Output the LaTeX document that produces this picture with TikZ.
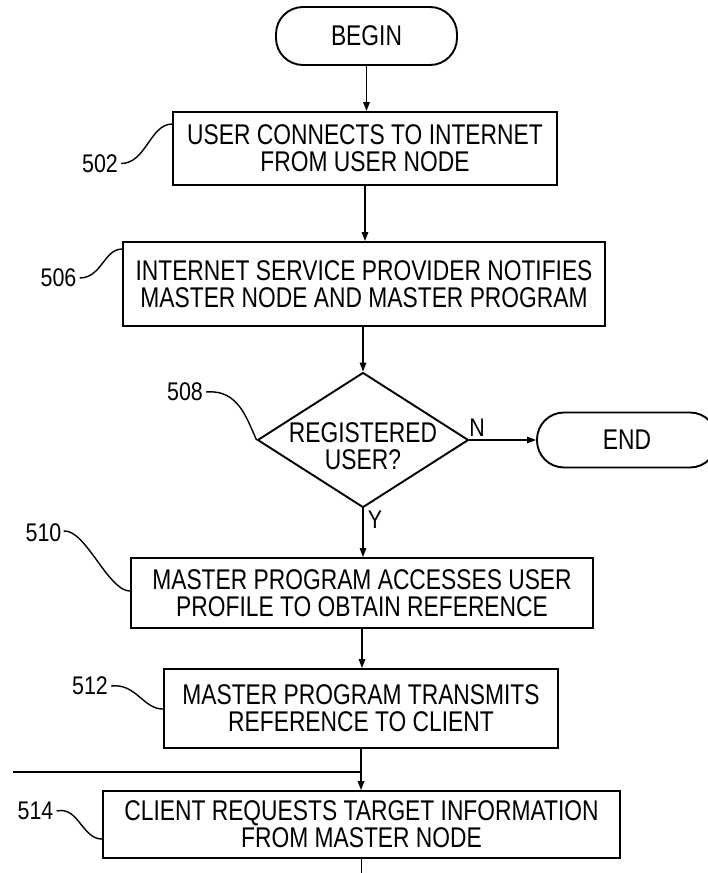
\documentclass[tikz,border=0pt]{standalone}
\usepackage{fontspec}
\setmainfont{Liberation Sans}
\newfontfamily\condfont[FakeStretch=0.80]{Liberation Sans}
\newfontfamily\numfont[FakeStretch=0.84]{Liberation Sans}
\usetikzlibrary{arrows.meta,shapes.geometric}
\begin{document}
\begin{tikzpicture}[x=1pt,y=-1pt,
  every node/.style={font=\condfont\fontsize{28.5}{27}\selectfont},
  box/.style={draw,line width=1.9pt,rectangle,align=center,inner sep=0pt},
  term/.style={draw,line width=1.9pt,rounded corners=27pt,inner sep=0pt},
  decision/.style={draw,line width=1.9pt,diamond,inner sep=0pt,minimum width=211pt,minimum height=135pt},
  txt/.style={inner sep=0pt,align=center},
  flow/.style={line width=1.5pt,-{Triangle[length=9pt,width=6.5pt]}},
  plain/.style={line width=1.5pt},
  lead/.style={line width=1.4pt},
  num/.style={font=\numfont\fontsize{25.5}{25}\selectfont,inner sep=0pt}
]
\fill[white] (0,0) rectangle (708,873);
\useasboundingbox (0,0) rectangle (708,873);

% nodes
\node[term,minimum width=181pt,minimum height=58pt] (begin) at (366.5,36) {BEGIN};
\node[box,minimum width=384pt,minimum height=73pt] (b502) at (365,148.5) {USER CONNECTS TO INTERNET\\FROM USER NODE};
\node[box,minimum width=482pt,minimum height=84pt] (b506) at (364,284) {INTERNET SERVICE PROVIDER NOTIFIES\\MASTER NODE AND MASTER PROGRAM};
\node[decision] (d508) at (363,440) {};
\node[txt] (t508) at (363,446.5) {REGISTERED\\USER?};
\node[term,minimum width=180pt,minimum height=55pt] (end) at (627,440) {END};
\node[box,minimum width=462pt,minimum height=70pt] (b510) at (362,593) {MASTER PROGRAM ACCESSES USER\\PROFILE TO OBTAIN REFERENCE};
\node[box,minimum width=394pt,minimum height=79pt] (b512) at (361,708.5) {MASTER PROGRAM TRANSMITS\\REFERENCE TO CLIENT};
\node[box,minimum width=517pt,minimum height=67pt] (b514) at (361.5,824.5) {CLIENT REQUESTS TARGET INFORMATION\\FROM MASTER NODE};

% reference numerals
\node[num] (n502) at (100,163.5) {502};
\node[num] (n506) at (58.5,278) {506};
\node[num] (n508) at (185,392) {508};
\node[num] (n510) at (43.5,533) {510};
\node[num] (n512) at (90,686) {512};
\node[num] (n514) at (35.5,811) {514};
\node[num] (lN) at (477,428) {N};
\node[num] (lY) at (375,520) {Y};

% helper coordinates
\coordinate (lft) at (13,772);
\coordinate (yjn) at (0,772);
\coordinate (ybot) at (0,876);
\coordinate (jn) at (b512.south |- yjn);

% connectors
\draw[flow] (begin.south) -- (begin.south |- b502.north);
\draw[flow] (b502.south) -- (b502.south |- b506.north);
\draw[flow] (d508.north |- b506.south) -- (d508.north);
\draw[flow] (d508.east) -- (end.west);
\draw[flow] (d508.south) -- (d508.south |- b510.north);
\draw[flow] (b510.south) -- (b510.south |- b512.north);
\draw[flow] (b512.south) -- (b512.south |- b514.north);
\draw[plain] (lft) -- (jn);
\draw[plain] (b514.south) -- (b514.south |- ybot);

% leaders
\draw[lead] ([xshift=3pt]n502.east) .. controls +(25,0) and +(-22,0) .. ([yshift=-13pt]b502.north west);
\draw[lead] ([xshift=3pt]n506.east) .. controls +(22,0) and +(-18,0) .. ([yshift=-8pt]b506.north west);
\draw[lead] ([xshift=3pt]n508.east) .. controls +(32,-3) and +(-10,-22) .. (d508.west);
\draw[lead] ([xshift=2pt,yshift=2pt]n510.east) .. controls +(22,-2) and +(-22,0) .. ([yshift=-34pt]b510.north west);
\draw[lead] ([xshift=3pt]n512.east) .. controls +(25,-3) and +(-20,0) .. ([yshift=-41pt]b512.north west);
\draw[lead] ([xshift=3pt]n514.east) .. controls +(22,-5) and +(-20,0) .. ([yshift=-49pt]b514.north west);
\end{tikzpicture}
\end{document}
